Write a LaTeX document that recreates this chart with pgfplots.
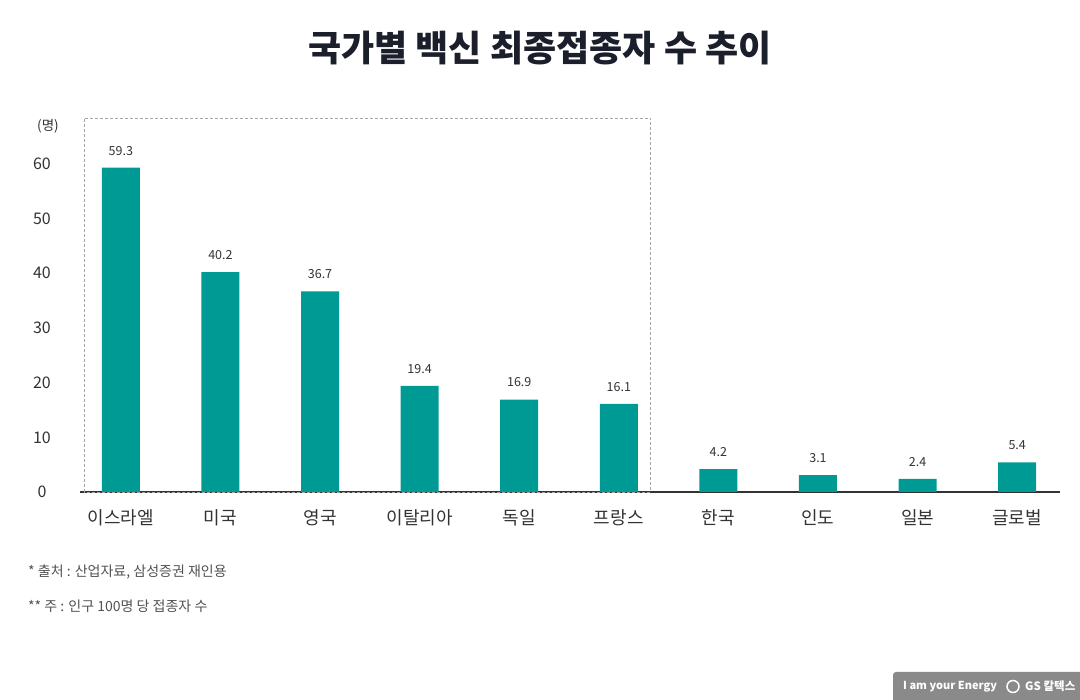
\documentclass[border=0pt]{standalone}
\usepackage{pgfplots}
\pgfplotsset{compat=1.18}
\usepackage{fontspec}
\setmainfont{Noto Sans CJK KR}
\definecolor{barc}{HTML}{009A95}
\definecolor{txt}{HTML}{333333}
\definecolor{ttl}{HTML}{1A1F2B}
\definecolor{logo}{HTML}{8A8A8A}
\begin{document}
\begin{tikzpicture}[x=1pt,y=1pt]
\fill[white] (0,0) rectangle (1080,700);
\begin{axis}[
  at={(80pt,208pt)}, anchor=south west,
  scale only axis, width=980pt, height=374pt,
  xmin=-0.41, xmax=9.43, ymin=0, ymax=68.4,
  axis x line=bottom, axis y line=left,
  x axis line style={draw=txt, line width=2.5pt, -},
  y axis line style={draw=none},
  xtick=data,
  xticklabels={이스라엘,미국,영국,이탈리아,독일,프랑스,한국,인도,일본,글로벌},
  ytick={0,10,20,30,40,50,60},
  major tick length=0pt,
  /pgf/number format/assume math mode=true,
  xticklabel style={font=\fontsize{18}{20}\selectfont, text=txt, yshift=-14pt},
  yticklabel style={font=\fontsize{16}{18}\selectfont, text=txt, anchor=center, xshift=-38pt},
  clip=false,
]
\draw[gray!70, dashed, line width=0.7pt, dash pattern=on 3pt off 2pt] (axis cs:-0.37,0) rectangle (axis cs:5.32,68.4);
\addplot[ybar, bar width=38pt, fill=barc, draw=none,
  nodes near coords, nodes near coords style={font=\fontsize{12.5}{14}\selectfont, text=txt, yshift=9pt},
  point meta=explicit symbolic]
  coordinates {(0,59.3)[59.3] (1,40.2)[40.2] (2,36.7)[36.7] (3,19.4)[19.4] (4,16.9)[16.9] (5,16.1)[16.1] (6,4.2)[4.2] (7,3.1)[3.1] (8,2.4)[2.4] (9,5.4)[5.4]};
\end{axis}
\node[font=\fontsize{36}{40}\selectfont\bfseries, text=ttl] at (540,652) {국가별 백신 최종접종자 수 추이};
\node[font=\fontsize{13.5}{15}\selectfont, text=txt] at (48,574) {(명)};
\node[font=\fontsize{14}{16}\selectfont, text=txt!85, anchor=west, inner sep=0pt] at (28,128) {* 출처 : 산업자료, 삼성증권 재인용};
\node[font=\fontsize{14}{16}\selectfont, text=txt!85, anchor=west, inner sep=0pt] at (28,94) {** 주 : 인구 100명 당 접종자 수};
\fill[logo] (1080,0) -- (893,0) -- (893,25) arc[start angle=180, end angle=90, radius=3] -- (1080,28) -- cycle;
\node[font=\fontsize{11}{12}\selectfont\bfseries, text=white, anchor=west, inner sep=0pt] at (903,13) {I am your Energy};
\draw[white, line width=1.5pt] (1013,13.5) circle (6);
\node[font=\fontsize{11.5}{13}\selectfont\bfseries, text=white, anchor=west, inner sep=0pt] at (1025,13.5) {GS 칼텍스};
\end{tikzpicture}
\end{document}
